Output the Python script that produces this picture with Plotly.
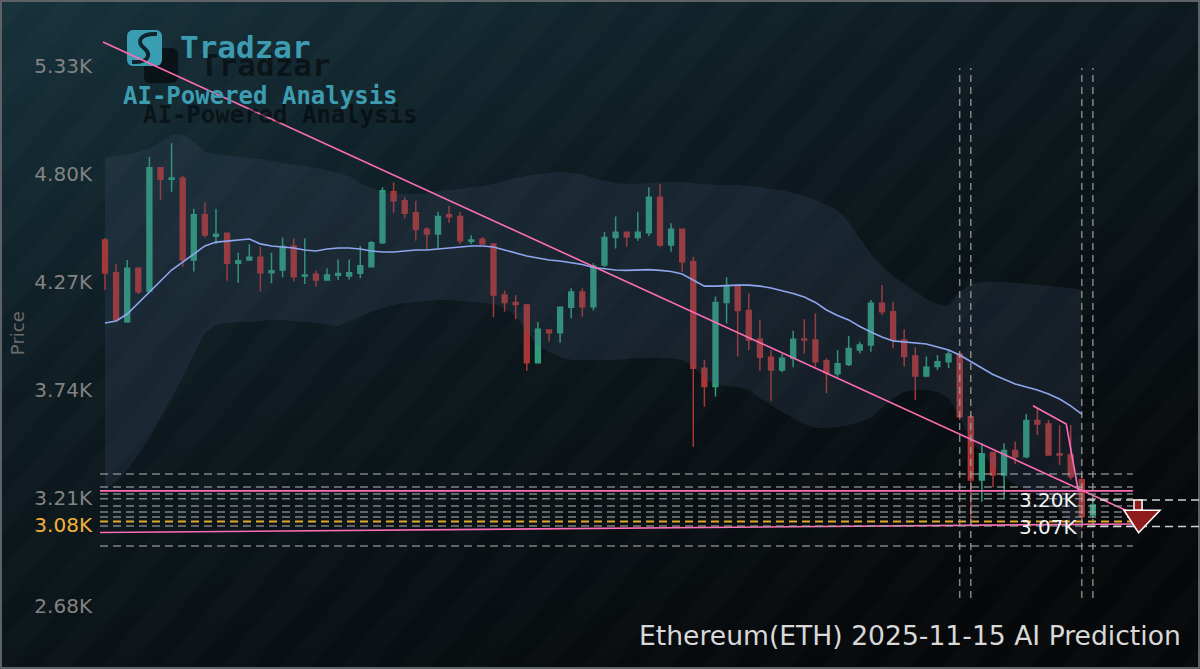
import base64
import pandas as pd
import plotly.graph_objects as go

# ---------------- data (USD) ----------------
START = "2025-08-18"
N_DAYS = 90
dates = pd.date_range(START, periods=N_DAYS, freq="D")

open_ = [4476, 4316, 4075, 4337, 4226, 4831, 4774, 4779, 4378, 4600,
         4495, 4509, 4362, 4378, 4391, 4316, 4329, 4447, 4300, 4308,
         4280, 4303, 4300, 4313, 4345, 4463, 4713, 4669, 4610, 4529,
         4506, 4600, 4591, 4470, 4480, 4457, 4206, 4170, 4157, 3874,
         4035, 4021, 4146, 4221, 4149, 4353, 4489, 4514, 4489, 4512,
         4686, 4452, 4529, 4370, 3847, 3757, 4169, 4252, 4130, 3989,
         3901, 3838, 3896, 3990, 3986, 3884, 3820, 3865, 3936, 3961,
         4166, 4124, 3986, 3907, 3809, 3855, 3879, 3917, 3609, 3298,
         3433, 3323, 3443, 3413, 3590, 3573, 3428, 3421, 3300, 3127]
high = [4486, 4358, 4378, 4340, 4885, 4835, 4951, 4790, 4629, 4661,
        4629, 4512, 4414, 4455, 4443, 4414, 4489, 4483, 4483, 4326,
        4337, 4381, 4381, 4447, 4471, 4735, 4759, 4686, 4669, 4539,
        4615, 4643, 4615, 4500, 4490, 4460, 4227, 4206, 4162, 4074,
        4038, 4146, 4239, 4239, 4362, 4517, 4591, 4517, 4615, 4735,
        4751, 4558, 4529, 4394, 3887, 4199, 4293, 4252, 4215, 4084,
        3936, 3917, 4031, 4087, 4117, 3896, 3936, 4005, 3977, 4182,
        4256, 4173, 4038, 3950, 3904, 3912, 3936, 3924, 3620, 3479,
        3433, 3479, 3487, 3622, 3650, 3593, 3568, 3568, 3320, 3195]
low = [4231, 4075, 4070, 4211, 4215, 4672, 4713, 4345, 4322, 4489,
       4457, 4276, 4267, 4374, 4223, 4264, 4293, 4272, 4260, 4247,
       4276, 4280, 4282, 4288, 4342, 4457, 4610, 4583, 4473, 4432,
       4435, 4560, 4457, 4457, 4453, 4097, 4124, 4087, 3835, 3874,
       3977, 3972, 4092, 4100, 4130, 4342, 4435, 4443, 4473, 4496,
       4443, 4419, 4321, 3462, 3658, 3708, 4067, 3904, 3936, 3835,
       3688, 3827, 3852, 3918, 3854, 3724, 3805, 3858, 3920, 3928,
       4108, 3945, 3855, 3691, 3803, 3838, 3847, 3593, 3080, 3192,
       3263, 3209, 3377, 3405, 3519, 3421, 3372, 3300, 3060, 3112]
close = [4314, 4084, 4337, 4222, 4831, 4774, 4780, 4378, 4600, 4501,
         4505, 4362, 4375, 4391, 4316, 4325, 4444, 4296, 4305, 4280,
         4305, 4312, 4315, 4350, 4463, 4718, 4669, 4607, 4529, 4506,
         4591, 4590, 4473, 4476, 4457, 4206, 4169, 4160, 3874, 4038,
         4021, 4146, 4221, 4149, 4349, 4489, 4514, 4492, 4514, 4686,
         4452, 4529, 4370, 3847, 3757, 4169, 4252, 4130, 3986, 3901,
         3838, 3896, 3989, 3986, 3879, 3825, 3869, 3944, 3961, 4166,
         4124, 3986, 3904, 3809, 3852, 3879, 3917, 3609, 3298, 3428,
         3323, 3443, 3413, 3590, 3573, 3421, 3421, 3315, 3120, 3176]

ma = [4069, 4079, 4113, 4167, 4226, 4280, 4329, 4368, 4407, 4447,
      4466, 4471, 4476, 4481, 4457, 4447, 4442, 4437, 4427, 4422,
      4432, 4437, 4437, 4432, 4422, 4417, 4417, 4422, 4427, 4427,
      4432, 4437, 4442, 4447, 4447, 4442, 4427, 4412, 4398, 4388,
      4378, 4373, 4363, 4356, 4341, 4334, 4329, 4327, 4329, 4331,
      4327, 4322, 4309, 4280, 4250, 4250, 4253, 4255, 4255, 4250,
      4241, 4228, 4214, 4196, 4170, 4133, 4106, 4084, 4052, 4025,
      4000, 3981, 3976, 3973, 3966, 3951, 3936, 3912, 3878, 3848,
      3816, 3792, 3770, 3755, 3740, 3721, 3696, 3662, 3622, None]

bb_upper = [4884, 4888, 4898, 4908, 4928, 4957, 4992, 4996, 4957, 4908,
            4898, 4893, 4884, 4879, 4874, 4864, 4854, 4844, 4839, 4830,
            4820, 4805, 4790, 4756, 4731, 4712, 4702, 4702, 4702, 4707,
            4717, 4722, 4726, 4736, 4741, 4751, 4766, 4781, 4790, 4800,
            4805, 4810, 4805, 4800, 4781, 4766, 4756, 4751, 4751, 4756,
            4761, 4761, 4761, 4756, 4751, 4746, 4746, 4746, 4741, 4736,
            4726, 4722, 4707, 4692, 4673, 4648, 4624, 4565, 4486, 4408,
            4349, 4300, 4260, 4221, 4187, 4162, 4153, 4221, 4260, 4270,
            4270, 4270, 4265, 4260, 4256, 4251, 4246, 4241, 4231, None]
bb_lower = [3250, 3289, 3348, 3421, 3505, 3603, 3701, 3799, 3912, 4020,
            4059, 4069, 4074, 4074, 4079, 4084, 4084, 4079, 4074, 4069,
            4059, 4054, 4079, 4103, 4123, 4143, 4157, 4167, 4172, 4177,
            4182, 4182, 4177, 4172, 4167, 4162, 4143, 4103, 4025, 3956,
            3927, 3902, 3888, 3888, 3888, 3888, 3888, 3892, 3897, 3897,
            3897, 3897, 3888, 3858, 3799, 3765, 3760, 3755, 3740, 3701,
            3667, 3632, 3603, 3573, 3554, 3554, 3559, 3569, 3583, 3603,
            3652, 3701, 3730, 3740, 3740, 3730, 3701, 3603, 3495, 3426,
            3362, 3313, 3274, 3250, 3225, 3191, 3147, 3083, 2975, None]

# trend lines (day offsets from START, price)
trend_down_days = [-0.18, 92.6]
trend_down_vals = [5448, 3134]
trend_short_days = [83.6, 86.6, 87.7]
trend_short_vals = [3663, 3573, 3241]
resist_days = [-0.45, 92.6]
resist_vals = [3245, 3245]
support_days = [-0.45, 92.6]
support_vals = [3041, 3083]

# horizontal levels
level_vals = [3328, 3264, 3230, 3206, 3171, 3142, 3117, 3073, 2975]
current_price = 3095
# vertical markers (day offsets)
vmark_days = [77, 78, 88, 89]
# prediction targets
target_high = 3200
target_low = 3070

ytick_vals = [5330, 4800, 4270, 3740, 3210, 3080, 2680]
ytick_text = ["5.33K", "4.80K", "4.27K", "3.74K", "3.21K",
              '<span style="color:#f2b23a">3.08K</span>', "2.68K"]

TITLE = "Ethereum(ETH) 2025-11-15 AI Prediction"

# ---------------- helpers ----------------
t0 = pd.Timestamp(START)


def day(d):
    return t0 + pd.Timedelta(days=d)


PINK = "#ff6db5"

fig = go.Figure()

# Bollinger band
fig.add_trace(go.Scatter(x=dates, y=bb_upper, mode="lines",
                         line=dict(width=0, color="rgba(0,0,0,0)"),
                         hoverinfo="skip"))
fig.add_trace(go.Scatter(x=dates, y=bb_lower, mode="lines",
                         line=dict(width=0, color="rgba(0,0,0,0)"),
                         fill="tonexty", fillcolor="rgba(75,92,125,0.18)",
                         hoverinfo="skip"))

# candles
fig.add_trace(go.Candlestick(
    x=dates, open=open_, high=high, low=low, close=close,
    increasing=dict(line=dict(color="#2f9c7d", width=1.5), fillcolor="#2f9c7d"),
    decreasing=dict(line=dict(color="#a73636", width=1.5), fillcolor="#a73636"),
    whiskerwidth=0,
))

# moving average
fig.add_trace(go.Scatter(x=dates, y=ma, mode="lines",
                         line=dict(color="#8fa6ee", width=1.6)))

# trend lines
for dd, vv in [(trend_down_days, trend_down_vals),
               (trend_short_days, trend_short_vals),
               (resist_days, resist_vals),
               (support_days, support_vals)]:
    fig.add_trace(go.Scatter(x=[day(d) for d in dd], y=vv, mode="lines",
                             line=dict(color=PINK, width=1.6)))

shapes = []
x_end = day(92.6)
for v in level_vals:
    shapes.append(dict(type="line", xref="x", yref="y", x0=day(-0.45), x1=x_end,
                       y0=v, y1=v,
                       line=dict(color="rgba(165,165,165,0.75)", width=1.5, dash="8px,5px")))
shapes.append(dict(type="line", xref="x", yref="y", x0=day(-0.45), x1=x_end,
                   y0=current_price, y1=current_price,
                   line=dict(color="#e2aa2a", width=2, dash="8px,5px")))
for d in vmark_days:
    shapes.append(dict(type="line", xref="x", yref="y", x0=day(d), x1=day(d),
                       y0=2720, y1=5320,
                       line=dict(color="rgba(160,160,160,0.8)", width=1.5, dash="7px,5px")))
for v in [target_high, target_low]:
    shapes.append(dict(type="line", xref="paper", yref="y", x0=0.9055, x1=1.01,
                       y0=v, y1=v,
                       line=dict(color="rgba(230,230,230,0.9)", width=1.5, dash="8px,5px")))
# arrow from target_high down to target_low
shaft_bottom = target_low + 80
shapes.append(dict(type="rect", xref="paper", yref="y", x0=0.9486, x1=0.9560,
                   y0=shaft_bottom, y1=target_high,
                   fillcolor="#8e1c1c", line=dict(color="white", width=1.5)))
shapes.append(dict(type="path", xref="paper", yref="y",
                   path=f"M 0.9394,{shaft_bottom} L 0.9725,{shaft_bottom} L 0.9528,{target_low - 30} Z",
                   fillcolor="#8e1c1c", line=dict(color="white", width=1.5)))

# ---------------- background (gradient + border + logo icon) ----------------
svg = """<svg xmlns="http://www.w3.org/2000/svg" width="1200" height="669" viewBox="0 0 1200 669">
<defs>
<linearGradient id="bg" x1="0" y1="0" x2="0.7" y2="1">
<stop offset="0" stop-color="#17323c"/>
<stop offset="0.4" stop-color="#0e1c22"/>
<stop offset="1" stop-color="#06080a"/>
</linearGradient>
<pattern id="st" width="46" height="46" patternUnits="userSpaceOnUse" patternTransform="rotate(40)">
<rect width="23" height="46" fill="#ffffff" fill-opacity="0.012"/>
</pattern>
</defs>
<rect width="1200" height="669" fill="url(#bg)"/>
<rect width="1200" height="669" fill="url(#st)"/>
<rect x="1" y="1" width="1198" height="667" fill="none" stroke="#5c6266" stroke-width="2"/>
<rect x="144" y="48" width="34" height="35" rx="6" fill="#000000" fill-opacity="0.55"/>
<rect x="127" y="30" width="35" height="36" rx="6" fill="#3b9db2"/>
<path d="M 157 34 C 140 33, 136 42, 144 48 C 151 54, 150 63, 132 62" stroke="#10242c" stroke-width="4" fill="none"/>
</svg>"""
svg_uri = "data:image/svg+xml;base64," + base64.b64encode(svg.encode()).decode()

annotations = [
    dict(text="<b>Tradzar</b>", xref="paper", yref="paper", x=0.0899, y=0.9274,
         xanchor="left", yanchor="middle", showarrow=False,
         font=dict(family="DejaVu Sans Mono", size=31, color="rgba(0,0,0,0.5)")),
    dict(text="<b>AI-Powered Analysis</b>", xref="paper", yref="paper", x=0.0376, y=0.8468,
         xanchor="left", yanchor="middle", showarrow=False,
         font=dict(family="DejaVu Sans Mono", size=24, color="rgba(0,0,0,0.5)")),
    dict(text="<b>Tradzar</b>", xref="paper", yref="paper", x=0.0716, y=0.9565,
         xanchor="left", yanchor="middle", showarrow=False,
         font=dict(family="DejaVu Sans Mono", size=31, color="#3d9cb1")),
    dict(text="<b>AI-Powered Analysis</b>", xref="paper", yref="paper", x=0.0193, y=0.8774,
         xanchor="left", yanchor="middle", showarrow=False,
         font=dict(family="DejaVu Sans Mono", size=24, color="#3d9cb1")),
    dict(text="Price", xref="paper", yref="paper", x=-0.0761, y=0.495,
         textangle=-90, showarrow=False, xanchor="center", yanchor="middle",
         font=dict(family="DejaVu Sans", size=18, color="#6c6c6c")),
    dict(text=TITLE, xref="paper", yref="paper", x=0.9936, y=0.008,
         xanchor="right", yanchor="middle", showarrow=False,
         font=dict(family="DejaVu Sans", size=26.6, color="#d8d8d8")),
    dict(text=f"{target_high/1000:.2f}K", xref="paper", yref="y", x=0.8991, y=target_high,
         xanchor="right", yanchor="middle", showarrow=False,
         font=dict(family="DejaVu Sans", size=20, color="#f2f2f2")),
    dict(text=f"{target_low/1000:.2f}K", xref="paper", yref="y", x=0.8991, y=target_low,
         xanchor="right", yanchor="middle", showarrow=False,
         font=dict(family="DejaVu Sans", size=20, color="#f2f2f2")),
]

fig.update_layout(
    width=1200, height=669,
    margin=dict(l=100, r=10, t=20, b=29),
    paper_bgcolor="#0a0f12",
    plot_bgcolor="rgba(0,0,0,0)",
    showlegend=False,
    boxgap=0.38,
    xaxis=dict(visible=False, range=[day(-0.45), day(97.75)],
               rangeslider=dict(visible=False), showgrid=False),
    yaxis=dict(range=[2513.5, 5555.7], tickvals=ytick_vals, ticktext=ytick_text,
               showgrid=False, zeroline=False, showline=False, ticks="",
               ticklabelstandoff=7,
               tickfont=dict(family="DejaVu Sans", size=20, color="#838383")),
    shapes=shapes,
    annotations=annotations,
    images=[dict(source=svg_uri, xref="paper", yref="paper",
                 x=-100 / 1090, y=1 + 20 / 620, sizex=1200 / 1090, sizey=669 / 620,
                 xanchor="left", yanchor="top", sizing="stretch", layer="below")],
)

fig.write_html("out.html", config={"displayModeBar": False},
               post_script="document.body.style.margin='0';document.body.style.overflow='hidden';")
